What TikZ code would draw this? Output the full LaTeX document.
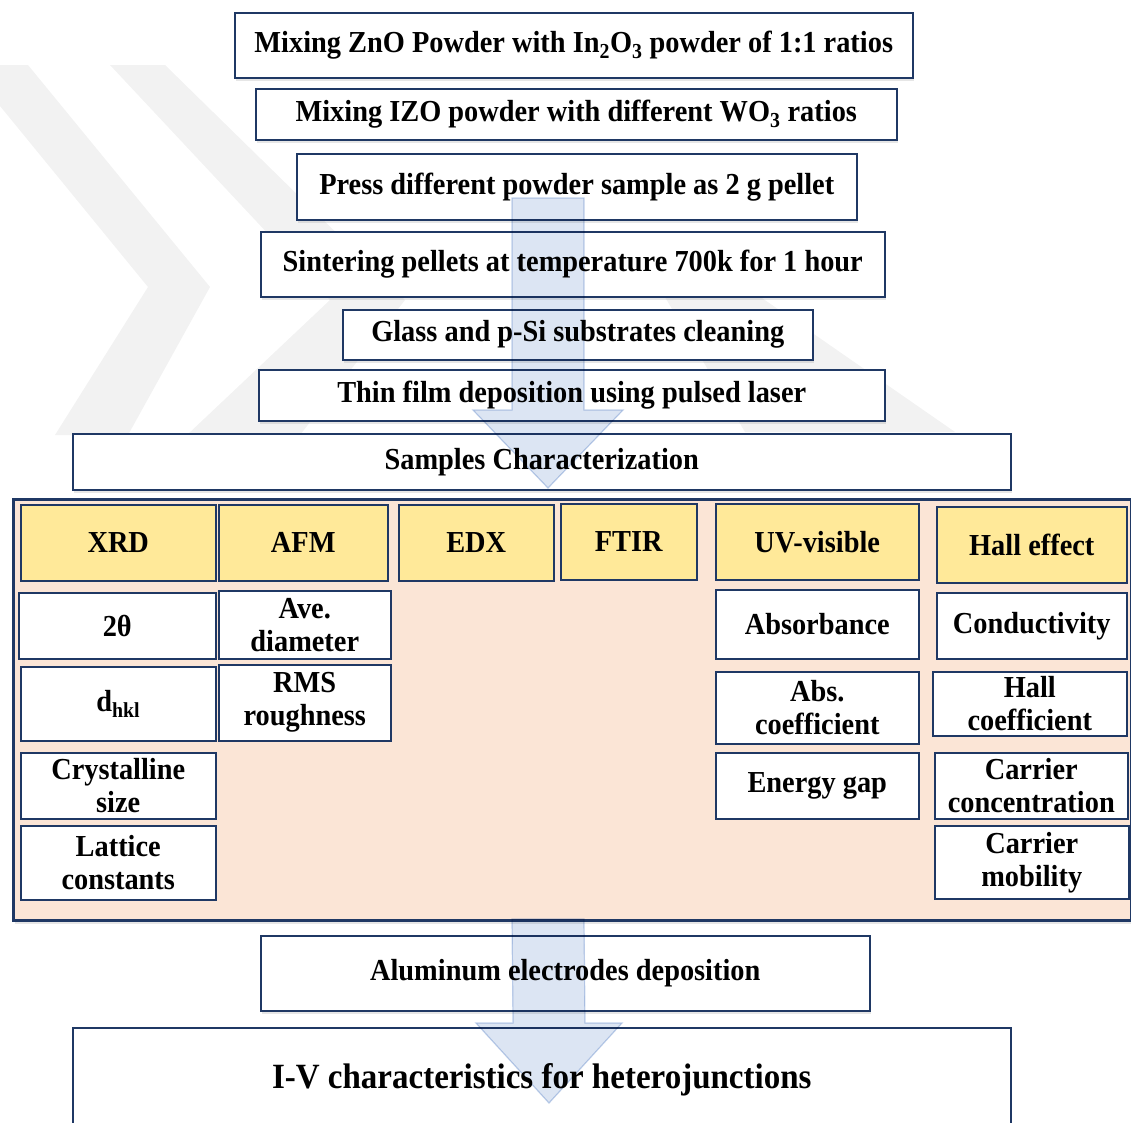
\documentclass[tikz,border=0pt]{standalone}
\usepackage{fontspec}
\setmainfont{Liberation Serif}[FakeStretch=0.93]
\usetikzlibrary{calc, shadows}
\definecolor{cnavy}{HTML}{1F3864}
\definecolor{cyellow}{HTML}{FFE999}
\definecolor{cpeach}{HTML}{FBE5D6}
\definecolor{cflow}{HTML}{DCE5F3}
\definecolor{cflowedge}{HTML}{C3D3EC}
\definecolor{cwater}{HTML}{F2F2F2}
\tikzset{
  every picture/.style={line width=1.5pt},
  stepbox/.style={draw=cnavy, fill=white, align=center, anchor=north west, inner sep=2pt,
    font=\bfseries\fontsize{30.5}{33}\selectfont},
  shadowed/.style={drop shadow={shadow xshift=1.5pt, shadow yshift=-3pt, opacity=0.2}},
  headbox/.style={stepbox, fill=cyellow},
  bigarrow/.style={fill=cflow, draw=cflowedge, line width=1.2pt, blend mode=multiply},
  wmark/.style={fill=cwater, draw=none},
}

\begin{document}
\begin{tikzpicture}[x=1pt, y=-1pt]
  \useasboundingbox (0,0) rectangle (1131,1122);
  % faint watermark behind the flow
  \fill[wmark] (0,65) -- (28,65) -- (210,287) -- (128,435) -- (55,435) -- (148,287) -- (0,106) -- cycle;
  \fill[wmark] (110,65) -- (165,65) -- (405,300) -- (300,435) -- (187,435) -- (330,300) -- cycle;
  \fill[wmark] (640,255) -- (700,255) -- (955,432) -- (745,432) -- cycle;

  % preparation steps
  \node[stepbox, shadowed, minimum width=678pt, minimum height=65pt] (mix) at (234,12)
    {Mixing ZnO Powder with In\textsubscript{2}O\textsubscript{3} powder of 1:1 ratios};
  \node[stepbox, shadowed, minimum width=641pt, minimum height=51pt] (izo) at (255,88)
    {Mixing IZO powder with different WO\textsubscript{3} ratios};
  \node[stepbox, shadowed, minimum width=560pt, minimum height=66pt] (press) at (296,153)
    {Press different powder sample as 2 g pellet};
  \node[stepbox, shadowed, minimum width=624pt, minimum height=65pt] (sinter) at (260,231)
    {Sintering pellets at temperature 700k for 1 hour};
  \node[stepbox, shadowed, minimum width=470pt, minimum height=50pt] (clean) at (342,309)
    {Glass and p-Si substrates cleaning};
  \node[stepbox, shadowed, minimum width=626pt, minimum height=51pt] (pld) at (258,369)
    {Thin film deposition using pulsed laser};
  \node[stepbox, shadowed, minimum width=938pt, minimum height=56pt] (samples) at (72,433)
    {Samples Characterization};

  \coordinate (a1top) at (548,198);
  \coordinate (a1tip) at (548,488);
  \draw[bigarrow] ($(a1top)+(-36,0)$) -- ($(a1top)+(36,0)$) -- ($(a1tip)+(36,-78)$) -- ($(a1tip)+(75,-78)$)
    -- (a1tip) -- ($(a1tip)+(-75,-78)$) -- ($(a1tip)+(-36,-78)$) -- cycle;

  % characterization table
  \node[draw=cnavy, fill=cpeach, line width=3pt, shadowed, anchor=north west,
    minimum width=1118pt, minimum height=421pt] (charbox) at (12,498) {};
  \foreach \n/\x/\y/\w/\txt in {xrd/20/504/195/XRD, afm/218/504/169/AFM, edx/398/504/155/EDX,
                               ftir/560/503/136/FTIR, uv/715/503/203/UV-visible, hall/936/506/190/Hall effect}
    \node[headbox, minimum width=\w pt, minimum height=76pt] (\n) at (\x,\y) {\txt};
  \foreach \n/\x/\y/\w/\h/\txt in {theta/18/592/197/66/2θ, dhkl/20/666/195/74/{d\textsubscript{hkl}},
                                  cryst/20/752/195/66/{Crystalline\\size}, lattice/20/825/195/74/{Lattice\\constants},
                                  diam/218/590/172/68/{Ave.\\diameter}, rms/218/664/172/76/{RMS\\roughness},
                                  absorb/715/589/203/69/Absorbance, abscoef/715/671/203/72/{Abs.\\coefficient},
                                  gap/715/752/203/66/Energy gap,
                                  cond/936/592/190/66/Conductivity, hallcoef/932/671/194/64/{Hall\\coefficient},
                                  conc/934/752/193/66/{Carrier\\concentration}, mob/934/825/194/73/{Carrier\\mobility}}
    \node[stepbox, minimum width=\w pt, minimum height=\h pt] (\n) at (\x,\y) {\txt};

  % devices
  \node[stepbox, shadowed, minimum width=609pt, minimum height=75pt] (alu) at (260,935)
    {Aluminum electrodes deposition};
  \node[stepbox, minimum width=938pt, minimum height=104pt, font=\bfseries\fontsize{35.5}{38}\selectfont] (iv) at (72,1027)
    {I-V characteristics for heterojunctions};

  \coordinate (a2top) at (548,919);
  \coordinate (a2tip) at (549,1103);
  \draw[bigarrow] ($(a2top)+(-36,0)$) -- ($(a2top)+(36,0)$) -- ($(a2tip)+(36,-80)$) -- ($(a2tip)+(73,-80)$)
    -- (a2tip) -- ($(a2tip)+(-73,-80)$) -- ($(a2tip)+(-36,-80)$) -- cycle;
\end{tikzpicture}
\end{document}
